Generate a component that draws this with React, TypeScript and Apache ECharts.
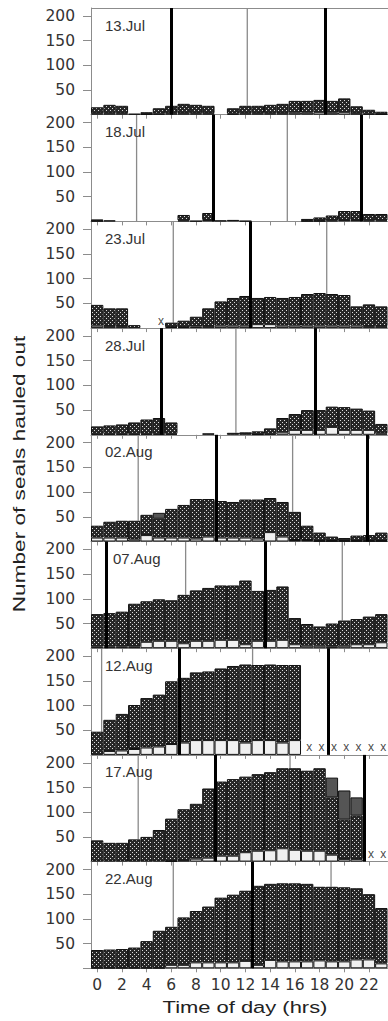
import React, { useEffect, useRef } from 'react';
import * as echarts from 'echarts';

// ---------- data ----------
const HOURS = [0, 1, 2, 3, 4, 5, 6, 7, 8, 9, 10, 11, 12, 13, 14, 15, 16, 17, 18, 19, 20, 21, 22, 23];
const HOUR_TICKS = [0, 2, 4, 6, 8, 10, 12, 14, 16, 18, 20, 22];
const Y_TICKS = [50, 100, 150, 200];
const DATES = ['13.Jul', '18.Jul', '23.Jul', '28.Jul', '02.Aug', '07.Aug', '12.Aug', '17.Aug', '22.Aug'];

// total seals (top of the cross-hatched part)
const TOTAL_13JUL = [15, 20, 18, 2, 5, 13, 18, 22, 20, 18, 0, 13, 18, 18, 20, 22, 28, 28, 30, 28, 33, 17, 10, 6];
const TOTAL_18JUL = [4, 2, 0, 0, 0, 0, 0, 13, 1, 17, 2, 3, 1, 0, 0, 0, 0, 5, 8, 12, 21, 21, 15, 15];
const TOTAL_23JUL = [47, 40, 40, 6, 0, 0, 11, 15, 23, 40, 54, 61, 65, 61, 63, 61, 63, 69, 71, 69, 67, 44, 48, 44];
const TOTAL_28JUL = [17, 19, 21, 25, 31, 34, 25, 0, 0, 3, 0, 4, 5, 7, 13, 34, 42, 50, 50, 57, 56, 53, 49, 22];
const TOTAL_02AUG = [32, 40, 42, 42, 54, 46, 66, 74, 86, 86, 82, 80, 85, 85, 88, 80, 60, 32, 18, 10, 7, 12, 13, 18];
const TOTAL_07AUG = [69, 71, 74, 90, 95, 99, 97, 108, 117, 122, 127, 127, 137, 116, 118, 125, 61, 49, 44, 50, 56, 59, 64, 69];
const TOTAL_12AUG = [47, 71, 83, 101, 115, 122, 149, 156, 167, 169, 175, 180, 183, 182, 183, 182, 182, 0, 0, 0, 0, 0, 0, 0];
const TOTAL_17AUG = [43, 38, 38, 45, 50, 64, 87, 106, 117, 148, 162, 167, 172, 177, 181, 189, 189, 184, 189, 130, 85, 93, 0, 0];
const TOTAL_22AUG = [37, 38, 39, 42, 55, 76, 84, 103, 116, 125, 143, 149, 157, 167, 171, 172, 172, 171, 165, 165, 164, 162, 150, 122];

// light (open bar) part at the bottom
const LIGHT_13JUL = [3, 3, 3, 0, 1, 2, 3, 3, 3, 3, 0, 2, 3, 3, 3, 3, 4, 4, 5, 4, 5, 3, 2, 1];
const LIGHT_18JUL = [1, 0, 0, 0, 0, 0, 0, 2, 0, 3, 0, 0, 0, 0, 0, 0, 0, 1, 1, 2, 3, 3, 2, 2];
const LIGHT_23JUL = [5, 4, 4, 0, 0, 0, 2, 2, 3, 4, 5, 5, 5, 8, 8, 5, 5, 5, 5, 5, 5, 5, 4, 4];
const LIGHT_28JUL = [2, 2, 2, 2, 2, 2, 2, 0, 0, 0, 0, 0, 0, 1, 2, 5, 10, 10, 10, 16, 10, 10, 10, 3];
const LIGHT_02AUG = [8, 8, 8, 4, 13, 8, 8, 8, 6, 10, 8, 8, 8, 6, 19, 10, 3, 3, 1, 1, 1, 1, 1, 1];
const LIGHT_07AUG = [3, 3, 3, 3, 13, 15, 15, 10, 15, 15, 17, 17, 8, 15, 15, 17, 8, 5, 5, 3, 5, 8, 8, 12];
const LIGHT_12AUG = [0, 8, 9, 12, 15, 17, 22, 25, 30, 30, 30, 30, 25, 30, 30, 25, 30, 0, 0, 0, 0, 0, 0, 0];
const LIGHT_17AUG = [0, 0, 0, 0, 0, 0, 1, 3, 6, 8, 12, 12, 19, 22, 23, 27, 24, 22, 22, 14, 5, 5, 0, 0];
const LIGHT_22AUG = [1, 1, 1, 1, 1, 1, 7, 7, 12, 12, 12, 12, 15, 7, 17, 14, 14, 14, 16, 14, 14, 18, 18, 10];

// dark grey part stacked on top
const EXTRA_02AUG = [0, 0, 0, 0, 0, 12, 0, 0, 0, 0, 0, 0, 0, 0, 0, 0, 0, 0, 0, 0, 0, 0, 0, 0];
const EXTRA_17AUG = [0, 0, 0, 0, 0, 0, 0, 0, 0, 0, 0, 0, 0, 0, 0, 0, 0, 0, 0, 40, 59, 37, 0, 0];
const EXTRA_NONE = [0, 0, 0, 0, 0, 0, 0, 0, 0, 0, 0, 0, 0, 0, 0, 0, 0, 0, 0, 0, 0, 0, 0, 0];

// hours with no data (x)
const MISSING_23JUL = [5];
const MISSING_12AUG = [17, 18, 19, 20, 21, 22, 23];
const MISSING_17AUG = [22, 23];

// high water (thick lines) and low water (thin lines), hours
const HIGH_13JUL = [6.03, 18.44];
const LOW_13JUL = [12.15];
const HIGH_18JUL = [9.4, 21.41];
const LOW_18JUL = [3.19, 15.39];
const HIGH_23JUL = [12.42];
const LOW_23JUL = [6.16, 18.58];
const HIGH_28JUL = [5.16, 17.63];
const LOW_28JUL = [11.23];
const HIGH_02AUG = [9.67, 21.89];
const LOW_02AUG = [3.32, 15.82];
const HIGH_07AUG = [0.76, 13.64];
const LOW_07AUG = [7.16, 19.84];
const HIGH_12AUG = [6.62, 18.71];
const LOW_12AUG = [0.36, 12.58];
const HIGH_17AUG = [9.53, 21.6];
const LOW_17AUG = [3.32, 15.61];
const HIGH_22AUG = [12.55];
const LOW_22AUG = [6.16, 18.93];

const TOTALS = [TOTAL_13JUL, TOTAL_18JUL, TOTAL_23JUL, TOTAL_28JUL, TOTAL_02AUG, TOTAL_07AUG, TOTAL_12AUG, TOTAL_17AUG, TOTAL_22AUG];
const LIGHTS = [LIGHT_13JUL, LIGHT_18JUL, LIGHT_23JUL, LIGHT_28JUL, LIGHT_02AUG, LIGHT_07AUG, LIGHT_12AUG, LIGHT_17AUG, LIGHT_22AUG];
const EXTRAS = [EXTRA_NONE, EXTRA_NONE, EXTRA_NONE, EXTRA_NONE, EXTRA_02AUG, EXTRA_NONE, EXTRA_NONE, EXTRA_17AUG, EXTRA_NONE];
const MISSING = [[], [], MISSING_23JUL, [], [], [], MISSING_12AUG, MISSING_17AUG, []];
const HIGHS = [HIGH_13JUL, HIGH_18JUL, HIGH_23JUL, HIGH_28JUL, HIGH_02AUG, HIGH_07AUG, HIGH_12AUG, HIGH_17AUG, HIGH_22AUG];
const LOWS = [LOW_13JUL, LOW_18JUL, LOW_23JUL, LOW_28JUL, LOW_02AUG, LOW_07AUG, LOW_12AUG, LOW_17AUG, LOW_22AUG];

// ---------- layout ----------
const W = 388;
const H = 1021;
const GRID_LEFT = 91;
const GRID_WIDTH = 296.5;
const TOP0 = 8;
const PITCH = 106.7;
const Y_MAX = 216;
const AXIS_GREY = '#8c8c8c';
const TICK_FONT = 'DejaVu Sans';

function makePattern() {
  const c = document.createElement('canvas');
  c.width = 4;
  c.height = 4;
  const ctx = c.getContext('2d');
  if (ctx) {
    ctx.fillStyle = '#272727';
    ctx.fillRect(0, 0, 4, 4);
    ctx.fillStyle = '#dcdcdc';
    ctx.fillRect(0, 0, 1, 1);
    ctx.fillRect(2, 2, 1, 1);
  }
  return { image: c, repeat: 'repeat', imageWidth: 4, imageHeight: 4 };
}

function item(v: number) {
  return v > 0 ? v : { value: 0, itemStyle: { opacity: 0 } };
}

export default function App() {
  const ref = useRef<HTMLDivElement>(null);

  useEffect(() => {
    if (!ref.current) return;
    const chart = echarts.init(ref.current, undefined, { renderer: 'svg' });
    const pattern = makePattern();
    const n = DATES.length;

    const grids: any[] = [];
    const xAxes: any[] = [];
    const yAxes: any[] = [];
    const series: any[] = [];
    const graphics: any[] = [];

    DATES.forEach((date, i) => {
      const top = TOP0 + i * PITCH;
      const last = i === n - 1;
      grids.push({ left: GRID_LEFT, width: GRID_WIDTH, top, height: PITCH, show: false });
      // category axis for the hourly bars (hidden)
      xAxes.push({
        type: 'category',
        gridIndex: i,
        position: 'bottom',
        data: HOURS,
        boundaryGap: true,
        show: false,
      });
      // value axis (hours) for ticks, labels, tide lines and markers
      xAxes.push({
        type: 'value',
        gridIndex: i,
        position: 'bottom',
        min: -0.5,
        max: 23.5,
        splitLine: { show: false },
        axisLine: { show: true, onZero: false, lineStyle: { color: AXIS_GREY, width: 1 } },
        axisTick: { show: true, customValues: HOUR_TICKS, length: 4, lineStyle: { color: AXIS_GREY } },
        axisLabel: {
          show: last,
          customValues: HOUR_TICKS,
          margin: 9,
          fontSize: 15.5,
          fontFamily: TICK_FONT,
          color: '#333',
        },
      });
      yAxes.push({
        type: 'value',
        gridIndex: i,
        min: 0,
        max: Y_MAX,
        splitLine: { show: false },
        axisLine: { show: true, onZero: false, lineStyle: { color: AXIS_GREY, width: 1 } },
        axisTick: {
          show: true,
          customValues: last ? [0].concat(Y_TICKS) : Y_TICKS,
          length: 8,
          lineStyle: { color: AXIS_GREY },
        },
        axisLabel: {
          customValues: Y_TICKS,
          margin: 16,
          fontSize: 15.5,
          fontFamily: TICK_FONT,
          color: '#333',
        },
      });

      const total = TOTALS[i];
      const light = LIGHTS[i];
      const extra = EXTRAS[i];
      const common = {
        type: 'bar',
        xAxisIndex: 2 * i,
        yAxisIndex: i,
        stack: 'panel' + i,
        barWidth: '100%',
        silent: true,
        z: 3,
      };
      // low water lines: thin grey, hidden behind the bars (visible above the bar they cross)
      LOWS[i].forEach((t, j) => {
        const h = Math.min(23, Math.max(0, Math.round(t)));
        const barTop = total[h] + extra[h];
        series.push({
          type: 'line',
          name: 'low water ' + date + ' ' + j,
          xAxisIndex: 2 * i + 1,
          yAxisIndex: i,
          silent: true,
          z: 1,
          symbol: 'none',
          lineStyle: { color: '#8a8a8a', width: 1.3 },
          data: [
            [t, barTop],
            [t, Y_MAX],
          ],
        });
      });
      series.push({
        ...common,
        name: 'open ' + date,
        data: HOURS.map((h, k) => item(light[k])),
        itemStyle: { color: '#f0f0f0', borderColor: '#111', borderWidth: 1 },
      });
      series.push({
        ...common,
        name: 'hatched ' + date,
        data: HOURS.map((h, k) => item(total[k] - light[k])),
        itemStyle: { color: pattern, borderColor: '#111', borderWidth: 1 },
      });
      series.push({
        ...common,
        name: 'grey ' + date,
        data: HOURS.map((h, k) => item(extra[k])),
        itemStyle: { color: '#555555', borderColor: '#111', borderWidth: 1 },
      });
      // high water lines and missing-hour markers: in front
      series.push({
        type: 'scatter',
        name: 'high water ' + date,
        xAxisIndex: 2 * i + 1,
        yAxisIndex: i,
        silent: true,
        symbolSize: 1,
        itemStyle: { color: 'transparent' },
        data: MISSING[i].map((h) => [h, 15]),
        label: {
          show: true,
          position: 'inside',
          formatter: 'x',
          offset: [2, 0],
          color: '#111',
          fontSize: 12,
          fontFamily: 'Liberation Sans',
        },
        z: 7,
        markLine: {
          silent: true,
          symbol: ['none', 'none'],
          label: { show: false },
          z: 6,
          lineStyle: { color: '#000', width: 3, type: 'solid' },
          data: HIGHS[i].map((t) => ({ xAxis: t })),
        },
      });

      graphics.push({
        type: 'text',
        x: i === 5 ? 113 : 105,
        y: top + 17,
        silent: true,
        z: 10,
        style: {
          text: date,
          fill: '#333',
          fontSize: 15,
          fontFamily: 'Liberation Sans',
          verticalAlign: 'middle',
          align: 'left',
        },
      });
    });

    graphics.push({
      type: 'line',
      silent: true,
      shape: { x1: GRID_LEFT, y1: TOP0 + 0.5, x2: W, y2: TOP0 + 0.5 },
      style: { stroke: AXIS_GREY, lineWidth: 1 },
    });
    graphics.push({
      type: 'text',
      x: 245,
      y: 1007,
      scaleX: 1.29,
      silent: true,
      style: {
        text: 'Time of day (hrs)',
        fill: '#222',
        fontSize: 17,
        fontFamily: 'Liberation Sans',
        align: 'center',
        verticalAlign: 'middle',
      },
    });
    graphics.push({
      type: 'text',
      x: 19,
      y: 474,
      rotation: Math.PI / 2,
      scaleX: 1.33,
      silent: true,
      style: {
        text: 'Number of seals hauled out',
        fill: '#222',
        fontSize: 17,
        fontFamily: 'Liberation Sans',
        align: 'center',
        verticalAlign: 'middle',
      },
    });

    chart.setOption({
      animation: false,
      backgroundColor: '#ffffff',
      grid: grids,
      xAxis: xAxes,
      yAxis: yAxes,
      series,
      graphic: graphics,
    });
    return () => chart.dispose();
  }, []);

  return (
    <div
      ref={ref}
      style={{ position: 'absolute', left: 0, top: 0, width: W, height: H, background: '#fff' }}
    />
  );
}
